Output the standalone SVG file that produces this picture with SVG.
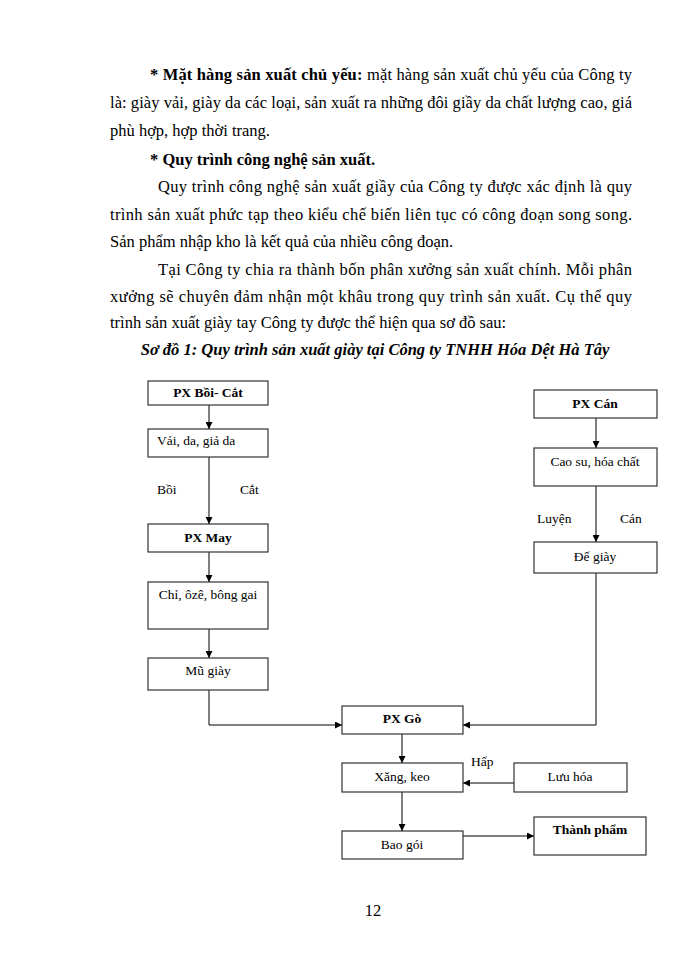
<svg xmlns="http://www.w3.org/2000/svg" width="700" height="960" viewBox="0 0 700 960">
<defs>
<marker id="ah" viewBox="0 0 10 10" refX="10" refY="5" markerWidth="7" markerHeight="7" markerUnits="userSpaceOnUse" orient="auto"><path d="M0,0 L10,5 L0,10 z" fill="#000"/></marker>
<style>
.p{font-family:"Liberation Serif","Times New Roman",serif;font-size:16.5px;fill:#000}
.b{font-weight:bold}
.cap{font-family:"Liberation Serif","Times New Roman",serif;font-size:16.5px;font-weight:bold;font-style:italic;text-anchor:middle}
.box{fill:#fff;stroke:#333;stroke-width:1.2}
.t{font-family:"Liberation Serif","Times New Roman",serif;font-size:13.5px;fill:#000;text-anchor:middle}
.l{font-family:"Liberation Serif","Times New Roman",serif;font-size:13.5px;fill:#000}
.c{fill:none;stroke:#000;stroke-width:1}
</style>
</defs>
<rect width="700" height="960" fill="#fff"/>
<g id="body">
<text class="p" x="150" y="80" textLength="482" lengthAdjust="spacing"><tspan class="b">* Mặt hàng sản xuất chủ yếu:</tspan> mặt hàng sản xuất chủ yếu của Công ty</text>
<text class="p" x="110" y="108" textLength="522" lengthAdjust="spacing">là: giày vải, giày da các loại, sản xuất ra những đôi giầy da chất lượng cao, giá</text>
<text class="p" x="110" y="136">phù hợp, hợp thời trang.</text>
<text class="p b" x="150" y="165">* Quy trình công nghệ sản xuất.</text>
<text class="p" x="158" y="192" textLength="474" lengthAdjust="spacing">Quy trình công nghệ sản xuất giầy của Công ty được xác định là quy</text>
<text class="p" x="110" y="220" textLength="522" lengthAdjust="spacing">trình sản xuất phức tạp theo kiểu chế biến liên tục có công đoạn song song.</text>
<text class="p" x="110" y="247">Sản phẩm nhập kho là kết quả của nhiều công đoạn.</text>
<text class="p" x="158" y="275" textLength="474" lengthAdjust="spacing">Tại Công ty chia ra thành bốn phân xưởng sản xuất chính. Mỗi phân</text>
<text class="p" x="110" y="302" textLength="522" lengthAdjust="spacing">xưởng sẽ chuyên đảm nhận một khâu trong quy trình sản xuất. Cụ thể quy</text>
<text class="p" x="110" y="328">trình sản xuất giày tay Công ty được thể hiện qua sơ đồ sau:</text>
<text class="cap" x="375" y="355">Sơ đồ 1: Quy trình sản xuất giày tại Công ty TNHH Hóa Dệt Hà Tây</text>
<text class="p" x="373" y="916" text-anchor="middle">12</text>
</g>
<g id="connectors">
<line class="c" x1="209" y1="405" x2="209" y2="429" marker-end="url(#ah)"/>
<line class="c" x1="209" y1="457" x2="209" y2="524" marker-end="url(#ah)"/>
<line class="c" x1="209" y1="552" x2="209" y2="582" marker-end="url(#ah)"/>
<line class="c" x1="209" y1="629" x2="209" y2="658" marker-end="url(#ah)"/>
<polyline class="c" points="209,690 209,725 342,725" marker-end="url(#ah)"/>
<line class="c" x1="596" y1="418" x2="596" y2="448" marker-end="url(#ah)"/>
<line class="c" x1="596" y1="486" x2="596" y2="542" marker-end="url(#ah)"/>
<polyline class="c" points="596,573 596,725 463,725" marker-end="url(#ah)"/>
<line class="c" x1="402" y1="734" x2="402" y2="763" marker-end="url(#ah)"/>
<line class="c" x1="514" y1="783" x2="463" y2="783" marker-end="url(#ah)"/>
<line class="c" x1="402" y1="792" x2="402" y2="831" marker-end="url(#ah)"/>
<line class="c" x1="463" y1="836" x2="534" y2="836" marker-end="url(#ah)"/>
<text class="l" x="157" y="494">Bồi</text>
<text class="l" x="240" y="494">Cắt</text>
<text class="l" x="537" y="523">Luyện</text>
<text class="l" x="620" y="523">Cán</text>
<text class="l" x="471" y="766">Hấp</text>
</g>
<g id="n1"><rect class="box" x="148" y="381" width="120" height="24"/><text class="t b" x="208" y="397">PX Bồi- Cắt</text></g>
<g id="n2"><rect class="box" x="148" y="429" width="120" height="28"/><text class="l" x="157" y="445">Vải, da, giả da</text></g>
<g id="n3"><rect class="box" x="148" y="524" width="120" height="28"/><text class="t b" x="208" y="542">PX May</text></g>
<g id="n4"><rect class="box" x="148" y="582" width="120" height="47"/><text class="t" x="208" y="599">Chỉ, ôzê, bông gai</text></g>
<g id="n5"><rect class="box" x="148" y="658" width="120" height="32"/><text class="t" x="208" y="675">Mũ giày</text></g>
<g id="n6"><rect class="box" x="534" y="390" width="123" height="28"/><text class="t b" x="595" y="408">PX Cán</text></g>
<g id="n7"><rect class="box" x="534" y="448" width="123" height="38"/><text class="t" x="595" y="466">Cao su, hóa chất</text></g>
<g id="n8"><rect class="box" x="534" y="542" width="123" height="31"/><text class="t" x="595" y="561">Đế giày</text></g>
<g id="n9"><rect class="box" x="342" y="706" width="121" height="28"/><text class="t b" x="402" y="723">PX Gò</text></g>
<g id="n10"><rect class="box" x="342" y="763" width="121" height="29"/><text class="t" x="402" y="781">Xăng, keo</text></g>
<g id="n11"><rect class="box" x="514" y="763" width="113" height="29"/><text class="t" x="570" y="781">Lưu hóa</text></g>
<g id="n12"><rect class="box" x="342" y="831" width="121" height="28"/><text class="t" x="402" y="849">Bao gói</text></g>
<g id="n13"><rect class="box" x="534" y="817" width="112" height="38"/><text class="t b" x="590" y="834">Thành phẩm</text></g>
</svg>
